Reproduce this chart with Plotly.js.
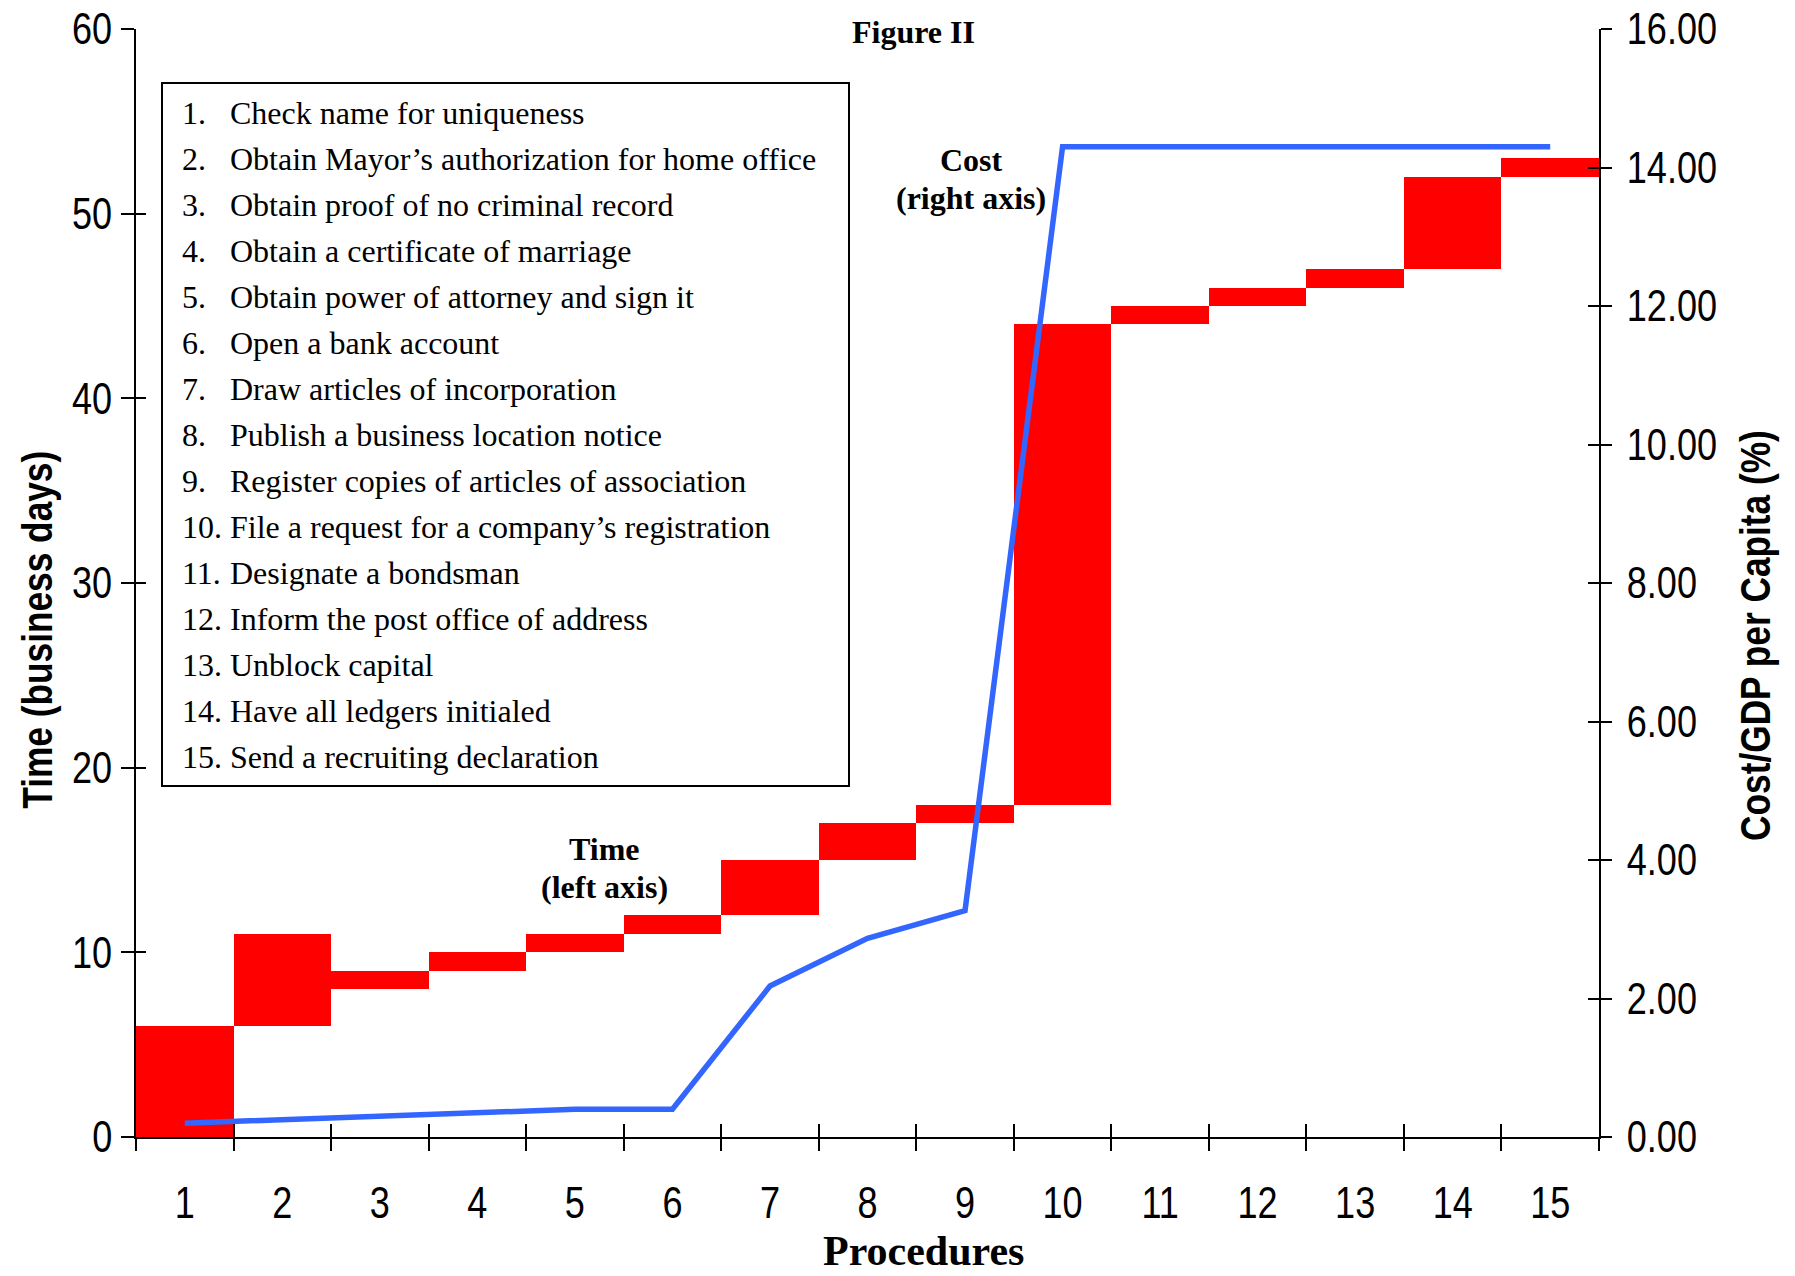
<!DOCTYPE html>
<html>
<head>
<meta charset="utf-8">
<script src="https://cdn.plot.ly/plotly-3.0.1.min.js"></script>
<style>
  html, body { margin: 0; padding: 0; background: #fff; }
  #chart { width: 1795px; height: 1276px; }
</style>
</head>
<body>
<div id="chart"></div>
<script>
// ---------------- DATA ----------------
const procedureNumbers = [1, 2, 3, 4, 5, 6, 7, 8, 9, 10, 11, 12, 13, 14, 15];
const procedureNames = [
  "Check name for uniqueness",
  "Obtain Mayor’s authorization for home office",
  "Obtain proof of no criminal record",
  "Obtain a certificate of marriage",
  "Obtain power of attorney and sign it",
  "Open a bank account",
  "Draw articles of incorporation",
  "Publish a business location notice",
  "Register copies of articles of association",
  "File a request for a company’s registration",
  "Designate a bondsman",
  "Inform the post office of address",
  "Unblock capital",
  "Have all ledgers initialed",
  "Send a recruiting declaration"
];
// time: start day and end day (business days, left axis)
const timeStart = [0, 6, 8, 9, 10, 11, 12, 15, 17, 18, 44, 45, 46, 47, 52];
const timeEnd   = [6, 11, 9, 10, 11, 12, 15, 17, 18, 44, 45, 46, 47, 52, 53];
// cumulative cost / GDP per capita (%) (right axis)
const costPct = [0.20, 0.25, 0.30, 0.36, 0.40, 0.40, 2.18, 2.87, 3.27, 14.30, 14.30, 14.30, 14.30, 14.30, 14.30];
const leftTicks = [0, 10, 20, 30, 40, 50, 60];
const rightTicks = [0, 2, 4, 6, 8, 10, 12, 14, 16];

// ---------------- LAYOUT HELPERS ----------------
const W = 1795, H = 1276;
const M = { l: 136, r: 196, t: 29, b: 139 };
const PW = W - M.l - M.r, PH = H - M.t - M.b;
const px2x = p => (p - M.l) / PW;
const px2y = p => (H - M.b - p) / PH;

const SANS = '"Liberation Sans", Arial, Helvetica, sans-serif';
const SERIF = '"Liberation Serif", "Times New Roman", Times, serif';
const NARROW_FACTOR = 0.82;   // emulate Arial Narrow

const duration = timeEnd.map((e, i) => e - timeStart[i]);
const xRange = [0.5, 15.5];

const traces = [
  {
    type: 'bar',
    x: procedureNumbers,
    y: duration,
    base: timeStart,
    width: 1,
    marker: { color: '#FF0000', line: { width: 0 } },
    xaxis: 'x', yaxis: 'y',
    hoverinfo: 'skip'
  },
  {
    type: 'scatter',
    mode: 'lines',
    x: procedureNumbers,
    y: costPct,
    line: { color: '#3366FF', width: 5.5 },
    xaxis: 'x', yaxis: 'y2',
    hoverinfo: 'skip'
  },
  // invisible helper traces so the tick-only overlay axes get drawn
  { type: 'scatter', mode: 'markers', x: procedureNumbers, y: timeStart, xaxis: 'x2', yaxis: 'y3',
    marker: { opacity: 0, size: 1 }, hoverinfo: 'skip' },
  { type: 'scatter', mode: 'markers', x: procedureNumbers, y: costPct, xaxis: 'x3', yaxis: 'y4',
    marker: { opacity: 0, size: 1 }, hoverinfo: 'skip' }
];

const axisCommon = {
  showgrid: false, zeroline: false,
  linecolor: '#000', linewidth: 2,
  tickcolor: '#000', tickwidth: 2
};

const annotations = [];
// Legend box text
procedureNames.forEach((name, i) => {
  const yc = 113 + i * 46;
  annotations.push({
    xref: 'paper', yref: 'paper', x: px2x(180), y: px2y(yc),
    xanchor: 'left', yanchor: 'middle', showarrow: false,
    text: procedureNumbers[i] + '.',
    font: { family: SERIF, size: 32, color: '#000' }
  });
  annotations.push({
    xref: 'paper', yref: 'paper', x: px2x(228), y: px2y(yc),
    xanchor: 'left', yanchor: 'middle', showarrow: false,
    text: name,
    font: { family: SERIF, size: 32, color: '#000' }
  });
});
const label = (txt, x, y, size, extra) => Object.assign({
  xref: 'paper', yref: 'paper', x: px2x(x), y: px2y(y),
  xanchor: 'center', yanchor: 'middle', showarrow: false,
  text: txt, font: { family: SERIF, size: size, color: '#000', weight: 'bold' }
}, extra || {});
annotations.push(label('Figure II', 913, 32, 32));
annotations.push(label('Cost', 971, 160, 32));
annotations.push(label('(right axis)', 971, 198, 32));
annotations.push(label('Time', 604, 849, 32));
annotations.push(label('(left axis)', 604, 887, 32));
annotations.push(label('Procedures', 923, 1251, 42, { height: 40 }));
const leftTitle = 'Time (business days)';
const rightTitle = 'Cost/GDP per Capita (%)';
annotations.push(label(leftTitle, 37, 630, 43,
  { textangle: -90, font: { family: SANS, size: 43, color: '#000', weight: 'bold' } }));
annotations.push(label(rightTitle, 1755, 636, 43,
  { textangle: -90, font: { family: SANS, size: 43, color: '#000', weight: 'bold' } }));

const layout = {
  width: W, height: H,
  margin: M,
  paper_bgcolor: '#fff', plot_bgcolor: '#fff',
  showlegend: false,
  bargap: 0,
  xaxis: Object.assign({}, axisCommon, {
    range: xRange, tickmode: 'array', tickvals: procedureNumbers,
    ticktext: procedureNumbers.map(String),
    tickfont: { family: SANS, size: 44, color: '#000' },
    ticks: '', showline: true, ticklabelstandoff: 26
  }),
  xaxis2: Object.assign({}, axisCommon, {
    range: xRange, overlaying: 'x', anchor: 'y', side: 'bottom',
    tickmode: 'linear', tick0: 0.5, dtick: 1,
    ticks: 'outside', ticklen: 13, showticklabels: false, showline: false
  }),
  xaxis3: Object.assign({}, axisCommon, {
    range: xRange, overlaying: 'x', anchor: 'y', side: 'bottom',
    tickmode: 'linear', tick0: 0.5, dtick: 1,
    ticks: 'inside', ticklen: 13, showticklabels: false, showline: false
  }),
  yaxis: Object.assign({}, axisCommon, {
    range: [0, 60], tickmode: 'array', tickvals: leftTicks,
    tickfont: { family: SANS, size: 44, color: '#000' },
    ticks: 'outside', ticklen: 13, showline: true, ticklabelstandoff: 0
  }),
  yaxis3: Object.assign({}, axisCommon, {
    range: [0, 60], overlaying: 'y', anchor: 'x', side: 'left',
    tickmode: 'array', tickvals: leftTicks,
    ticks: 'inside', ticklen: 10, showticklabels: false, showline: false
  }),
  yaxis2: Object.assign({}, axisCommon, {
    range: [0, 16], overlaying: 'y', anchor: 'x', side: 'right',
    tickmode: 'array', tickvals: rightTicks, tickformat: '.2f',
    tickfont: { family: SANS, size: 44, color: '#000' },
    ticks: 'outside', ticklen: 11, showline: true, ticklabelstandoff: 6
  }),
  yaxis4: Object.assign({}, axisCommon, {
    range: [0, 16], overlaying: 'y', anchor: 'x', side: 'right',
    tickmode: 'array', tickvals: rightTicks,
    ticks: 'inside', ticklen: 11, showticklabels: false, showline: false
  }),
  shapes: [{
    type: 'rect', xref: 'paper', yref: 'paper',
    x0: px2x(162), x1: px2x(849), y0: px2y(83), y1: px2y(786),
    line: { color: '#000', width: 2 }, fillcolor: 'rgba(0,0,0,0)', layer: 'above'
  }],
  annotations: annotations
};

// horizontally condense text elements (emulating Arial Narrow) around an anchor
function condense(nodes, factor, anchor) {
  nodes.forEach(t => {
    const bb = t.getBBox();
    const cx = anchor === 'end' ? bb.x + bb.width : anchor === 'start' ? bb.x : bb.x + bb.width / 2;
    const tr = t.getAttribute('transform') || '';
    t.setAttribute('transform', tr + ' translate(' + cx + ',0) scale(' + factor + ',1) translate(' + (-cx) + ',0)');
  });
}

Plotly.newPlot('chart', traces, layout, { displayModeBar: false, staticPlot: true }).then(gd => {
  condense(gd.querySelectorAll('.xtick text'), NARROW_FACTOR, 'middle');
  condense(gd.querySelectorAll('.ytick text'), NARROW_FACTOR, 'end');
  condense(gd.querySelectorAll('.y2tick text'), NARROW_FACTOR, 'start');
  const titles = Array.from(gd.querySelectorAll('text.annotation-text'))
    .filter(t => t.textContent === leftTitle || t.textContent === rightTitle);
  condense(titles, NARROW_FACTOR, 'middle');
});
</script>
</body>
</html>
